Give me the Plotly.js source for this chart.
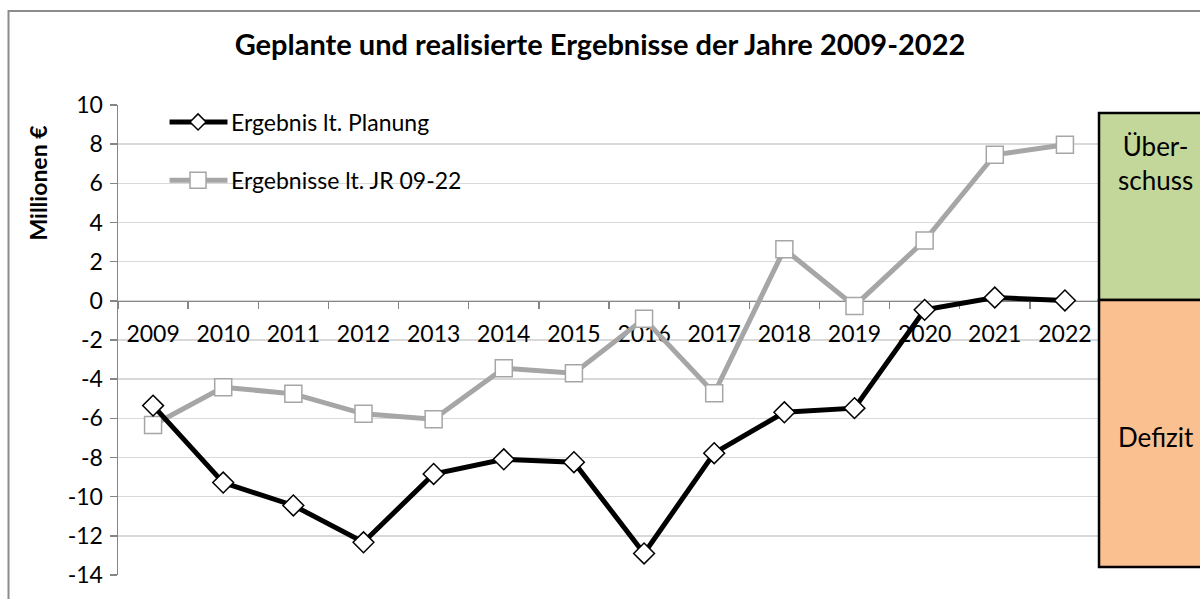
<!DOCTYPE html>
<html>
<head>
<meta charset="utf-8">
<script src="https://cdn.plot.ly/plotly-3.0.1.min.js"></script>
<style>html,body{margin:0;padding:0;background:#fff;}#chart{width:1200px;height:599px;}</style>
</head>
<body>
<div id="chart"></div>
<script>
const years = ["2009","2010","2011","2012","2013","2014","2015","2016","2017","2018","2019","2020","2021","2022"];
const planung = [-5.35,-9.28,-10.45,-12.33,-8.84,-8.09,-8.24,-12.9,-7.78,-5.69,-5.48,-0.46,0.17,0.02];
const jr = [-6.34,-4.41,-4.75,-5.77,-6.05,-3.44,-3.70,-0.92,-4.72,2.64,-0.26,3.08,7.46,7.97];
const yTicks = [-14,-12,-10,-8,-6,-4,-2,0,2,4,6,8,10];
const seriesNames = ['Ergebnis lt. Planung', 'Ergebnisse lt. JR 09-22'];
const FONT = "Lato, 'Open Sans', sans-serif";

const traces = [
  {
    x: years, y: jr, type: 'scatter', mode: 'lines+markers', name: seriesNames[1],
    line: {color: '#A6A6A6', width: 5},
    marker: {symbol: 'square', size: 17, color: '#FFFFFF', line: {color: '#A6A6A6', width: 1.5}},
    showlegend: false
  },
  {
    x: years, y: planung, type: 'scatter', mode: 'lines+markers', name: seriesNames[0],
    line: {color: '#000000', width: 5},
    marker: {symbol: 'diamond', size: 16, color: '#FFFFFF', line: {color: '#000000', width: 1.5}},
    showlegend: false
  }
];

// legend geometry (paper coords)
const lgX0 = 0.0525, lgX1 = 0.1115, lgMid = 0.0815, lgText = 0.1135;
const lgY1 = 0.964, lgY2 = 0.840;

const layout = {
  width: 1200, height: 599,
  margin: {l: 118, r: 100, t: 105, b: 24},
  paper_bgcolor: '#FFFFFF', plot_bgcolor: '#FFFFFF',
  font: {family: FONT, size: 23, color: '#000000'},
  showlegend: false,
  title: {
    text: '<b>Geplante und realisierte Ergebnisse der Jahre 2009-2022</b>',
    font: {family: FONT, size: 29, color: '#000000'},
    x: 0.5, xanchor: 'center', y: 0.925, yanchor: 'middle'
  },
  xaxis: {
    type: 'category', range: [-0.5, 13.5],
    anchor: 'free', position: 14/24,
    showline: true, linecolor: '#868686', linewidth: 1.5,
    ticks: 'outside', tickson: 'boundaries', ticklen: 7, tickcolor: '#868686', tickwidth: 1.5,
    showgrid: false, zeroline: false,
    tickfont: {family: FONT, size: 23, color: '#000000'},
    ticklabelstandoff: 12,
    layer: 'below traces', fixedrange: true
  },
  yaxis: {
    range: [-14, 10], tickvals: yTicks, ticktext: yTicks.map(String),
    showline: true, linecolor: '#868686', linewidth: 1.5,
    ticks: 'outside', ticklen: 7, tickcolor: '#868686', tickwidth: 1.5,
    showgrid: true, gridcolor: '#D9D9D9', gridwidth: 1.5, zeroline: false,
    tickfont: {family: FONT, size: 23, color: '#000000'},
    ticklabelstandoff: 2,
    layer: 'below traces', fixedrange: true
  },
  shapes: [
    {type: 'rect', xref: 'paper', yref: 'paper', x0: -0.1115, x1: 1.3, y0: -0.2, y1: 1.2,
     line: {color: '#8C8C8C', width: 2}, fillcolor: 'rgba(0,0,0,0)', layer: 'below'},
    {type: 'rect', xref: 'paper', yref: 'paper', x0: 0.999, x1: 1.2, y0: 0.585, y1: 0.983,
     line: {color: '#000000', width: 2.5}, fillcolor: '#C4D79B', layer: 'above'},
    {type: 'rect', xref: 'paper', yref: 'paper', x0: 0.999, x1: 1.2, y0: 0.017, y1: 0.585,
     line: {color: '#000000', width: 2.5}, fillcolor: '#FAC090', layer: 'above'},
    // legend: Planung
    {type: 'line', xref: 'paper', yref: 'paper', x0: lgX0, x1: lgX1, y0: lgY1, y1: lgY1,
     line: {color: '#000000', width: 5}, layer: 'above'},
    {type: 'path', xref: 'paper', yref: 'paper', xsizemode: 'pixel', ysizemode: 'pixel',
     xanchor: lgMid, yanchor: lgY1, path: 'M-8,0L0,8L8,0L0,-8Z',
     fillcolor: '#FFFFFF', line: {color: '#000000', width: 1.5}, layer: 'above'},
    // legend: JR
    {type: 'line', xref: 'paper', yref: 'paper', x0: lgX0, x1: lgX1, y0: lgY2, y1: lgY2,
     line: {color: '#A6A6A6', width: 5}, layer: 'above'},
    {type: 'rect', xref: 'paper', yref: 'paper', xsizemode: 'pixel', ysizemode: 'pixel',
     xanchor: lgMid, yanchor: lgY2, x0: -8, x1: 8, y0: -8, y1: 8,
     fillcolor: '#FFFFFF', line: {color: '#A6A6A6', width: 1.5}, layer: 'above'}
  ],
  annotations: [
    {text: seriesNames[0], xref: 'paper', yref: 'paper', x: lgText, y: lgY1,
     showarrow: false, xanchor: 'left', yanchor: 'middle',
     font: {family: FONT, size: 23, color: '#000000'}},
    {text: seriesNames[1], xref: 'paper', yref: 'paper', x: lgText, y: lgY2,
     showarrow: false, xanchor: 'left', yanchor: 'middle',
     font: {family: FONT, size: 23, color: '#000000'}},
    {text: '<b>Millionen €</b>', xref: 'paper', yref: 'paper', x: -0.0815, y: 0.835,
     textangle: -90, showarrow: false, xanchor: 'center', yanchor: 'middle',
     font: {family: FONT, size: 23, color: '#000000'}},
    {text: 'Über-<br>schuss', xref: 'paper', yref: 'paper', x: 1.057, y: 0.876,
     showarrow: false, xanchor: 'center', yanchor: 'middle',
     font: {family: FONT, size: 26, color: '#000000'}},
    {text: 'Defizit', xref: 'paper', yref: 'paper', x: 1.057, y: 0.294,
     showarrow: false, xanchor: 'center', yanchor: 'middle',
     font: {family: FONT, size: 26, color: '#000000'}}
  ]
};

Plotly.newPlot('chart', traces, layout, {displayModeBar: false, staticPlot: true});
</script>
</body>
</html>
